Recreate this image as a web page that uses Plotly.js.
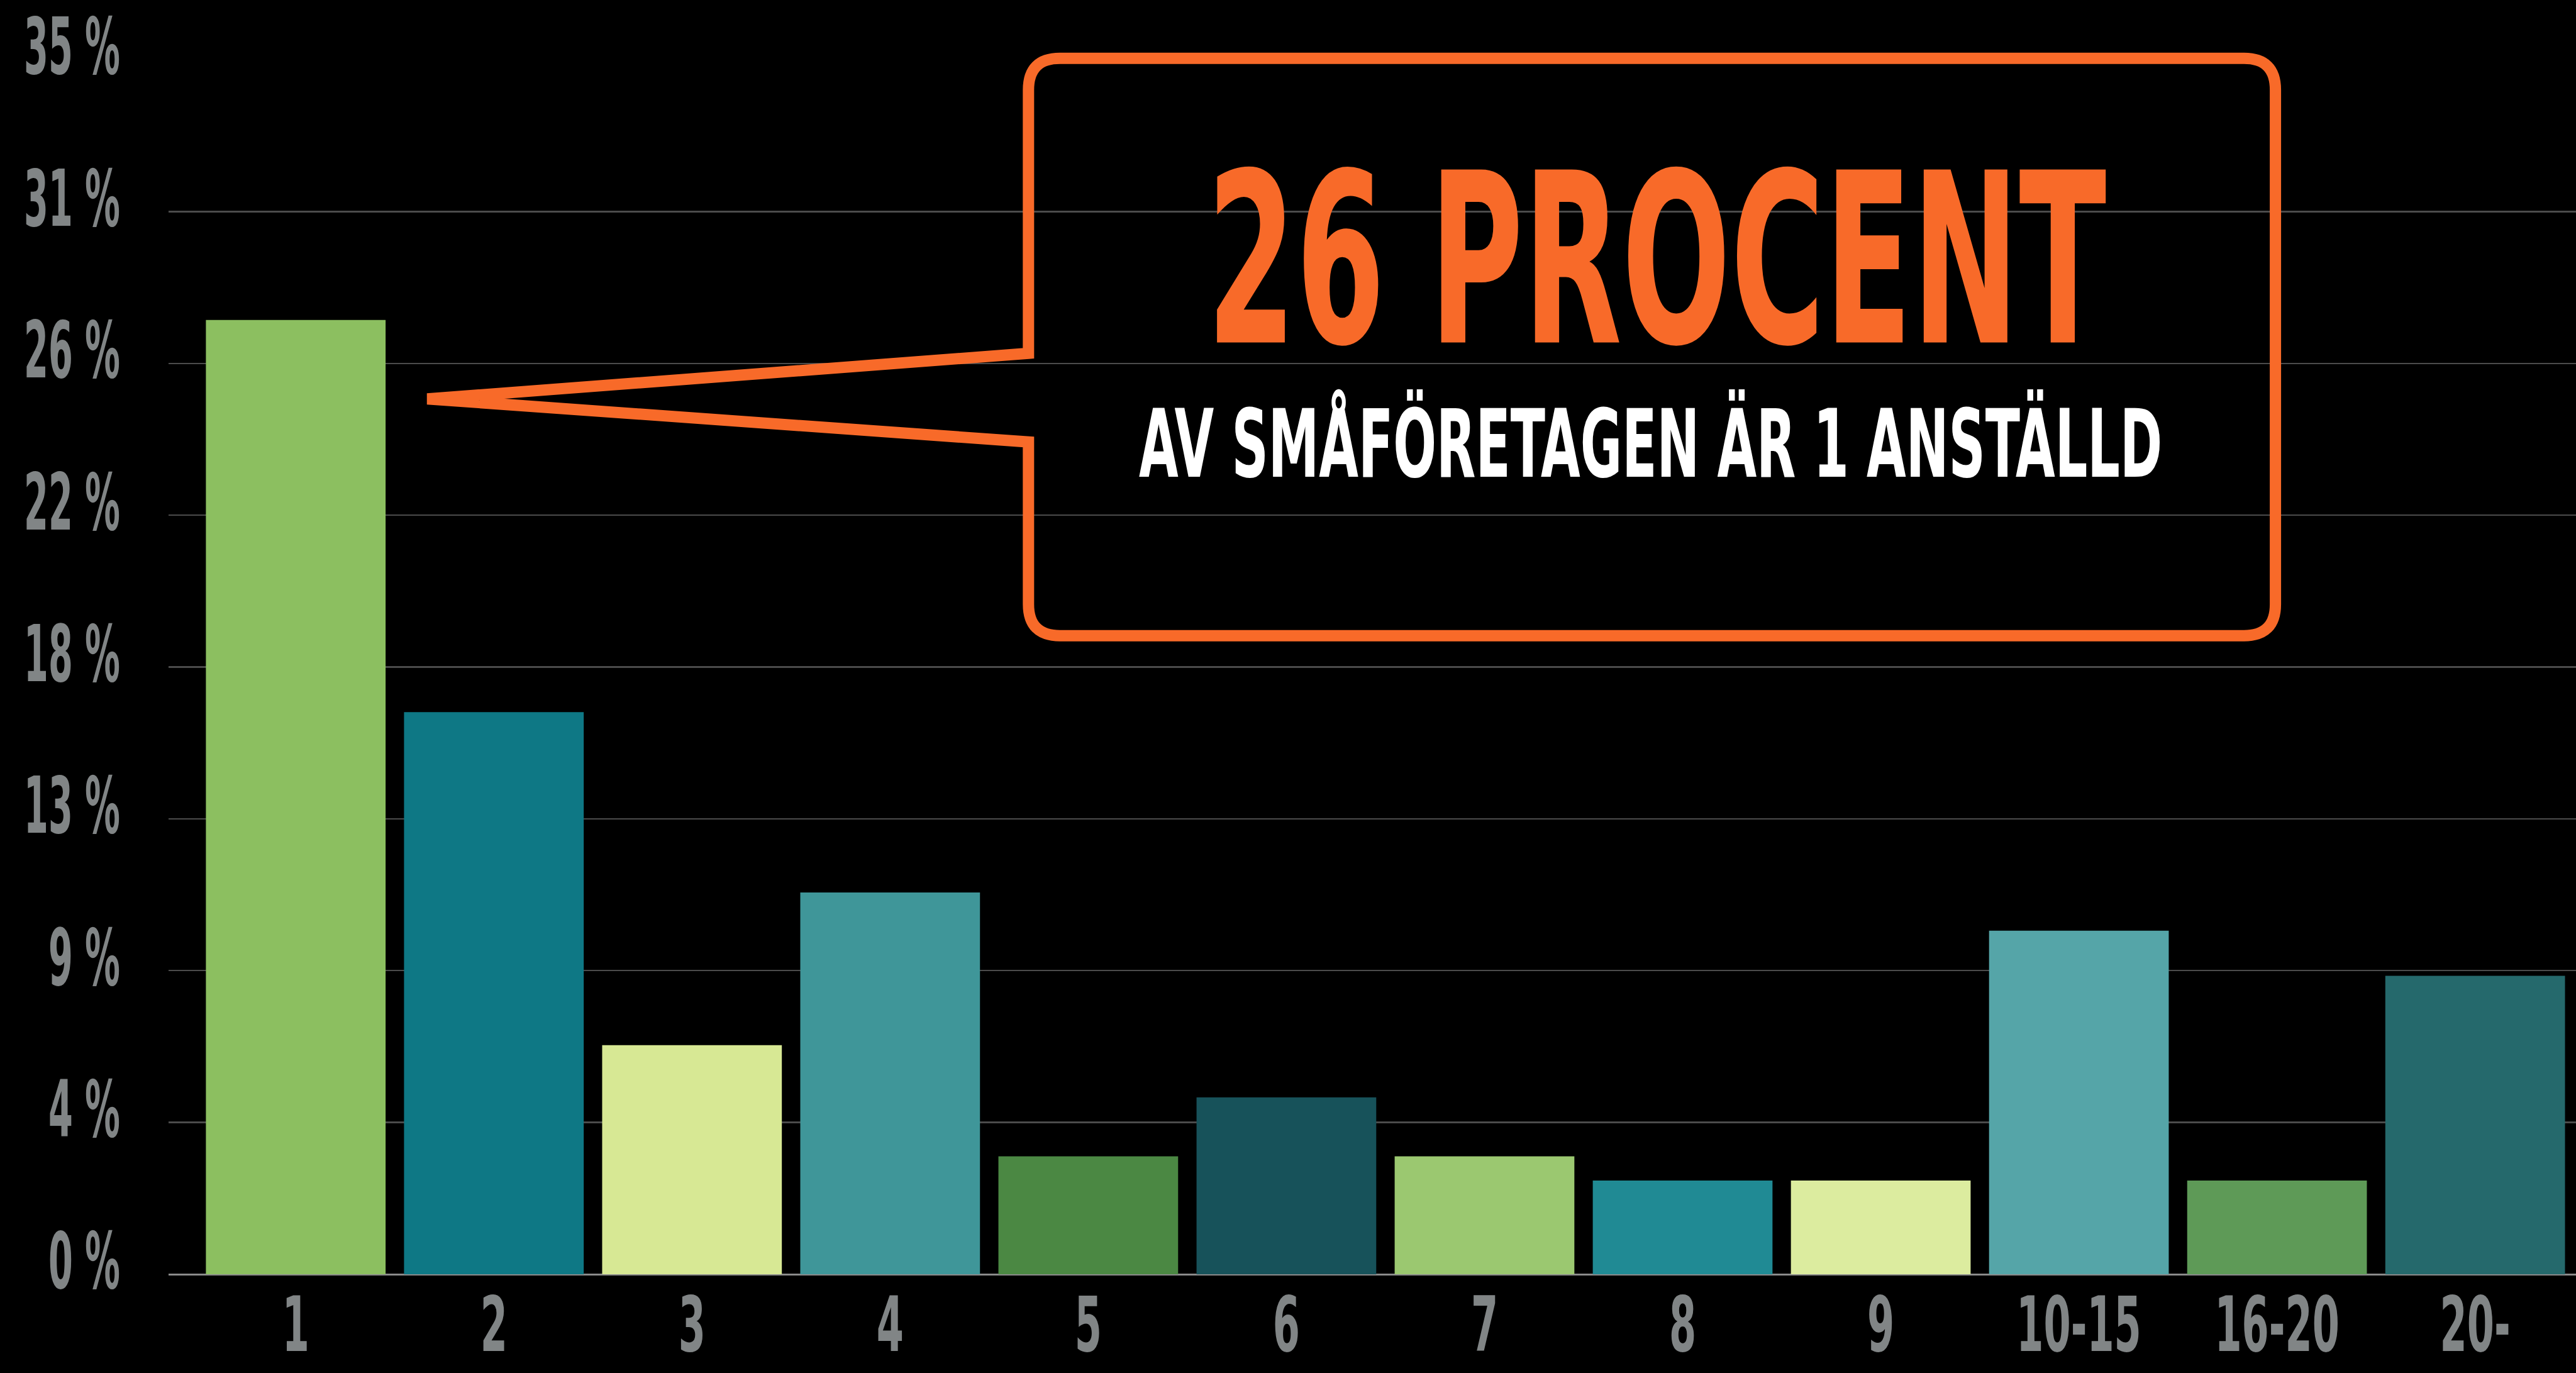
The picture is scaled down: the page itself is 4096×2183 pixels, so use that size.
<!DOCTYPE html>
<html>
<head>
<meta charset="utf-8">
<script src="https://cdn.plot.ly/plotly-3.0.1.min.js"></script>
<style>
html, body { margin: 0; padding: 0; background: #000; overflow: hidden; }
#chart { width: 4096px; height: 2183px; }
/* the reference uses a very condensed display face: narrow the installed condensed font */
.annotation-text { transform-box: fill-box; transform-origin: center; transform: scaleX(0.6); }
g.xtick { transform-box: fill-box; transform-origin: center; transform: scaleX(0.57); }
g.ytick { transform-box: fill-box; transform-origin: right center; transform: scaleX(0.5); }
</style>
</head>
<body>
<div id="chart"></div>
<script>
// ---- data ----
const categories = ['1', '2', '3', '4', '5', '6', '7', '8', '9', '10-15', '16-20', '20-'];
const shares = [27.5, 16.2, 6.6, 11.0, 3.4, 5.1, 3.4, 2.7, 2.7, 9.9, 2.7, 8.6];
const barColors = ['#8cbf60', '#0e7885', '#d7e894', '#3f9699', '#4b8843', '#17525a',
                   '#9bc870', '#208a94', '#dcec9f', '#55a5a8', '#5e9a57', '#25696c'];
const yTickVals = [0, 4.375, 8.75, 13.125, 17.5, 21.875, 26.25, 30.625, 35];
const yTickText = ['0 %', '4 %', '9 %', '13 %', '18 %', '22 %', '26 %', '31 %', '35 %'];
const calloutTitle = '26 PROCENT';
const calloutText = 'AV SMÅFÖRETAGEN ÄR 1 ANSTÄLLD';

// ---- layout geometry (pixels in the 4096x2183 window) ----
const W = 4096, H = 2183;
const M = { l: 267.5, r: 0, t: 95.2, b: 156.5 };
const pw = W - M.l - M.r, ph = H - M.t - M.b;
const px = x => (x - M.l) / pw;
const py = y => (H - M.b - y) / ph;

const FONT = '"DejaVu Sans Condensed", "DejaVu Sans", sans-serif';
const ORANGE = '#f86a29';
const GREY = '#818586';

// callout outline (centre line of stroke)
const L = 1635, R = 3618, T = 93, B = 1011, rad = 50;
const pts = [
  ['M', L, 562], ['L', 679, 634.5], ['L', L, 703], ['L', L, B - rad],
  ['Q', L, B, L + rad, B], ['L', R - rad, B], ['Q', R, B, R, B - rad],
  ['L', R, T + rad], ['Q', R, T, R - rad, T], ['L', L + rad, T],
  ['Q', L, T, L, T + rad]
];
let path = '';
pts.forEach(p => {
  path += p[0];
  for (let i = 1; i < p.length; i += 2) {
    path += ' ' + px(p[i]).toFixed(5) + ',' + py(p[i + 1]).toFixed(5);
  }
  path += ' ';
});
path += 'Z';

const trace = {
  type: 'bar',
  x: categories,
  y: shares,
  marker: { color: barColors, line: { width: 0 } },
  width: 0.907,
  hoverinfo: 'skip'
};

const layout = {
  width: W, height: H,
  margin: M,
  paper_bgcolor: '#000',
  plot_bgcolor: '#000',
  showlegend: false,
  xaxis: {
    type: 'category',
    range: [-0.642, 11.509],
    showgrid: false, zeroline: false, showline: false,
    ticks: '',
    tickangle: 0,
    tickfont: { family: FONT, size: 121, color: GREY, weight: 'bold' },
    ticklabelstandoff: 0
  },
  yaxis: {
    range: [0, 35],
    tickvals: yTickVals,
    ticktext: yTickText,
    showgrid: true, gridcolor: '#4b4b4b', gridwidth: 2.4,
    zeroline: true, zerolinecolor: '#8a8a8a', zerolinewidth: 3,
    showline: false, ticks: '',
    tickfont: { family: FONT, size: 124, color: GREY, weight: 'bold' },
    ticklabelstandoff: 76,
    ticklabelshift: -21
  },
  shapes: [{
    type: 'path', xref: 'paper', yref: 'paper', path: path,
    line: { color: ORANGE, width: 18 },
    fillcolor: 'rgba(0,0,0,0)',
    layer: 'above'
  }],
  annotations: [
    {
      xref: 'paper', yref: 'paper', x: px(2634), y: py(413.6),
      xanchor: 'center', yanchor: 'middle', showarrow: false,
      text: calloutTitle,
      font: { family: FONT, size: 377, color: ORANGE, weight: 'bold' }
    },
    {
      xref: 'paper', yref: 'paper', x: px(2624), y: py(707),
      xanchor: 'center', yanchor: 'middle', showarrow: false,
      text: calloutText,
      font: { family: FONT, size: 150, color: '#ffffff', weight: 'bold' }
    }
  ]
};

Plotly.newPlot('chart', [trace], layout, { staticPlot: true, displayModeBar: false });
</script>
</body>
</html>
